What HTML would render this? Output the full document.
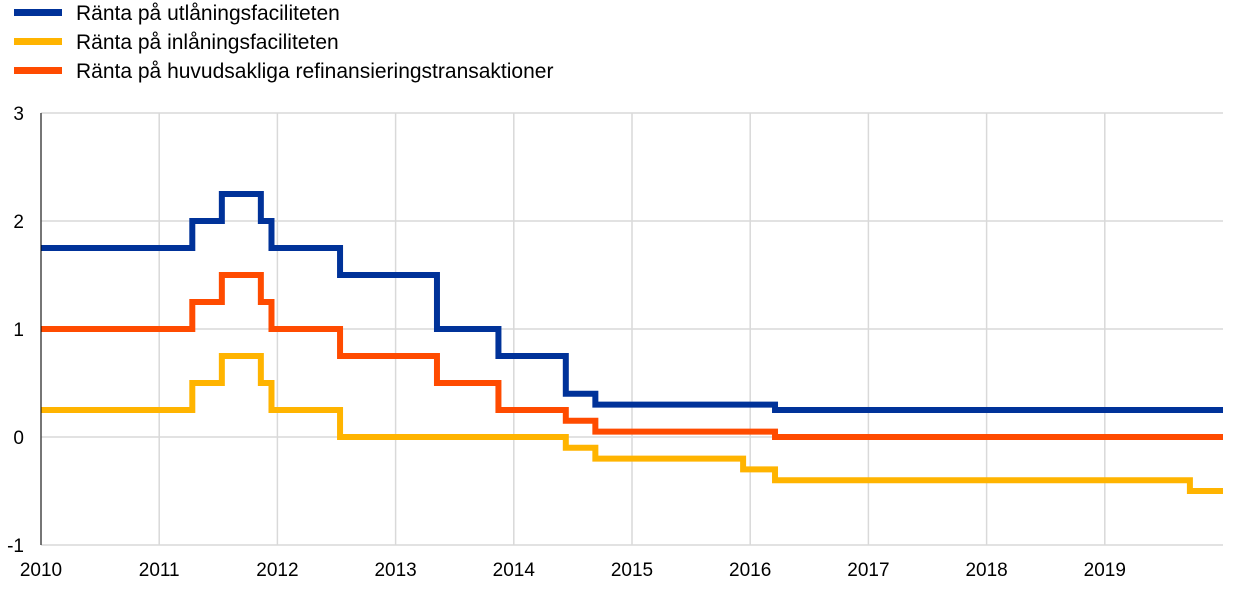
<!DOCTYPE html>
<html><head><meta charset="utf-8"><style>
body{margin:0;background:#fff;width:1240px;height:590px;overflow:hidden;font-family:"Liberation Sans",sans-serif}
</style></head><body>
<svg id="chart" width="1240" height="590">
<g id="legend">
<g><rect x="14" y="9" width="48" height="7" fill="#003299"/><text x="76" y="20" font-size="21">Ränta på utlåningsfaciliteten</text></g>
<g><rect x="14" y="38" width="48" height="7" fill="#FFB400"/><text x="76" y="49" font-size="21">Ränta på inlåningsfaciliteten</text></g>
<g><rect x="14" y="67" width="48" height="7" fill="#FF4B00"/><text x="76" y="78" font-size="21">Ränta på huvudsakliga refinansieringstransaktioner</text></g>
</g>
<g id="grid"></g><g id="series"></g><g id="axes"></g>
</svg>
<script>
const changeDates=[2010.0,2011.28,2011.53,2011.86,2011.95,2012.53,2013.35,2013.87,2014.44,2014.69,2015.94,2016.21,2019.72];
const mlfRates=[1.75,2.0,2.25,2.0,1.75,1.5,1.0,0.75,0.40,0.30,0.30,0.25,0.25];
const mroRates=[1.0,1.25,1.5,1.25,1.0,0.75,0.5,0.25,0.15,0.05,0.05,0.0,0.0];
const dfRates=[0.25,0.5,0.75,0.5,0.25,0.0,0.0,0.0,-0.10,-0.20,-0.30,-0.40,-0.50];
const yearTicks=[2010,2011,2012,2013,2014,2015,2016,2017,2018,2019];
const yTicks=[-1,0,1,2,3];
const endDate=2020.0;
const NS="http://www.w3.org/2000/svg";
const x=v=>41+(v-2010)*118.2;
const y=v=>437-v*108;
function mk(t,a,p){const e=document.createElementNS(NS,t);for(const k in a)e.setAttribute(k,a[k]);p.appendChild(e);return e;}
const grid=document.getElementById('grid'),axes=document.getElementById('axes'),ser=document.getElementById('series');
yTicks.forEach(v=>{
 const l=mk('line',{x1:41,x2:1223,y1:y(v),y2:y(v),stroke:'#d9d9d9','stroke-width':1.5},grid);
 
 
 const t=mk('text',{x:24,y:y(v)+7,'font-size':19,'text-anchor':'end'},axes);
 t.textContent=v;
 
 
});
yearTicks.forEach(v=>{
 const l=mk('line',{x1:x(v),x2:x(v),y1:113,y2:545,stroke:'#d9d9d9','stroke-width':1.5},grid);
 
 
 const t=mk('text',{x:x(v),y:576,'font-size':19,'text-anchor':'middle'},axes);
 t.textContent=v;
 
 
});
const ax=mk('line',{x1:41,x2:41,y1:113,y2:545,stroke:'#000','stroke-width':1},axes);


function step(vals,color,name){
 let d='';
 vals.forEach((v,i)=>{
  const x0=x(changeDates[i]);
  d+=(i===0?'M':'L')+x0+','+y(v);
  const x1=i<vals.length-1?x(changeDates[i+1]):x(endDate);
  d+='L'+x1+','+y(v);
 });
 const p=mk('path',{d:d,fill:'none',stroke:color,'stroke-width':6},ser);
 
 
}
step(dfRates,'#FFB400','deposit-facility-line');
step(mroRates,'#FF4B00','mro-line');
step(mlfRates,'#003299','marginal-lending-line');
</script>
</body></html>
